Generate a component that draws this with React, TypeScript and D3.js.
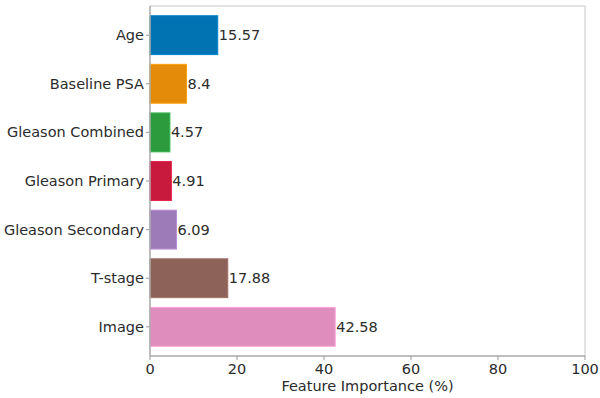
import React from 'react';
import * as d3 from 'd3';

const features = ['Age', 'Baseline PSA', 'Gleason Combined', 'Gleason Primary', 'Gleason Secondary', 'T-stage', 'Image'];
const importance = [15.57, 8.4, 4.57, 4.91, 6.09, 17.88, 42.58];
const valueLabels = ['15.57', '8.4', '4.57', '4.91', '6.09', '17.88', '42.58'];
const barColors = ['#0173b2', '#e58b0a', '#2b9b3e', '#c81a3c', '#9d7bb9', '#8d6259', '#de8dbd'];
const xTicks = [0, 20, 40, 60, 80, 100];

const W = 600;
const H = 398;
const margin = { top: 6, right: 15, bottom: 42, left: 150 };

export default function App() {
  const x = d3.scaleLinear().domain([0, 100]).range([margin.left, W - margin.right]);
  const y = d3.scaleBand().domain(features).range([margin.top, H - margin.bottom]).padding(0.2);
  const font = 'DejaVu Sans, sans-serif';
  const textColor = '#2b2b2b';
  const axisColor = '#999';

  return (
    <svg width={W} height={H} style={{ position: 'absolute', left: 0, top: 0 }} fontFamily={font}>
      <rect x={0} y={0} width={W} height={H} fill="#fff" />
      {features.map((f, i) => (
        <g key={f}>
          <rect
            x={x(0)}
            y={y(f)}
            width={x(importance[i]) - x(0)}
            height={y.bandwidth()}
            fill={barColors[i]}
            stroke={d3.color(barColors[i])!.brighter(0.4).toString()}
            strokeWidth={1}
          />
          <text
            x={x(importance[i]) + 1}
            y={y(f)! + y.bandwidth() / 2}
            dy="0.35em"
            fontSize={14.5}
            fill={textColor}
          >
            {valueLabels[i]}
          </text>
          <line
            x1={x(0) - 4}
            x2={x(0)}
            y1={y(f)! + y.bandwidth() / 2}
            y2={y(f)! + y.bandwidth() / 2}
            stroke={axisColor}
          />
          <text
            x={x(0) - 6}
            y={y(f)! + y.bandwidth() / 2}
            dy="0.35em"
            textAnchor="end"
            fontSize={14.5}
            fill={textColor}
          >
            {f}
          </text>
        </g>
      ))}
      <rect
        x={margin.left}
        y={margin.top}
        width={W - margin.left - margin.right}
        height={H - margin.top - margin.bottom}
        fill="none"
        stroke="#c8c8c8"
      />
      <line x1={margin.left} x2={margin.left} y1={margin.top} y2={H - margin.bottom} stroke={axisColor} />
      <line x1={margin.left} x2={W - margin.right} y1={H - margin.bottom} y2={H - margin.bottom} stroke={axisColor} />
      {xTicks.map((t) => (
        <g key={t}>
          <line x1={x(t)} x2={x(t)} y1={H - margin.bottom} y2={H - margin.bottom + 4} stroke={axisColor} />
          <text x={x(t)} y={H - margin.bottom + 18} textAnchor="middle" fontSize={14.5} fill={textColor}>
            {t}
          </text>
        </g>
      ))}
      <text
        x={(margin.left + W - margin.right) / 2}
        y={H - 7}
        textAnchor="middle"
        fontSize={14.5}
        fill={textColor}
      >
        Feature Importance (%)
      </text>
    </svg>
  );
}
